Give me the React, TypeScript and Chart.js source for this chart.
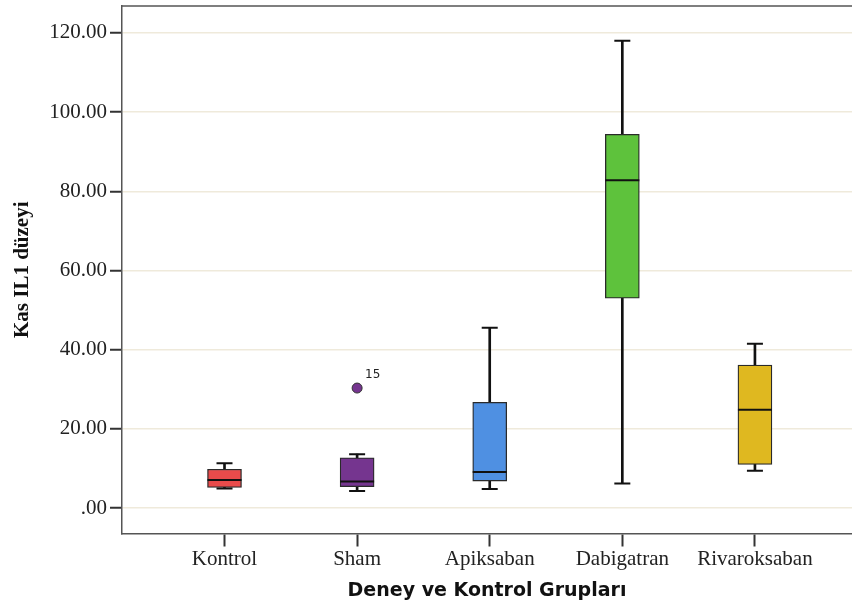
import React, { useEffect, useRef } from "react";
import { Chart, registerables } from "chart.js";

Chart.register(...registerables);

const categories = ["Kontrol", "Sham", "Apiksaban", "Dabigatran", "Rivaroksaban"];
const whiskerLow = [4.9, 4.3, 4.8, 6.2, 9.4];
const q1 = [5.2, 5.4, 6.8, 53.0, 11.0];
const median = [7.1, 6.7, 9.1, 82.8, 24.8];
const q3 = [9.8, 12.7, 26.7, 94.4, 36.1];
const whiskerHigh = [11.3, 13.6, 45.5, 118.0, 41.5];
const boxColors = ["#e94b4b", "#75358f", "#4f90e2", "#5ec23c", "#dfb820"];
const outlierGroup = [2];
const outlierValue = [30.3];
const outlierLabel = ["15"];
const yTickValues = [0, 20, 40, 60, 80, 100, 120];
const yTickLabels = [".00", "20.00", "40.00", "60.00", "80.00", "100.00", "120.00"];
const xTitle = "Deney ve Kontrol Grupları";
const yTitle = "Kas IL1 düzeyi";

export default function App() {
  const ref = useRef<HTMLCanvasElement>(null);
  useEffect(() => {
    if (!ref.current) return;
    const pos = (i: number) => i + 1;
    const stems: any[] = [];
    categories.forEach((_, i) => {
      stems.push({ x: pos(i), y: [whiskerLow[i], q1[i]] });
      stems.push({ x: pos(i), y: [q3[i], whiskerHigh[i]] });
    });
    const caps: any[] = [];
    categories.forEach((_, i) => {
      caps.push({ x: pos(i), y: whiskerLow[i] });
      caps.push({ x: pos(i), y: whiskerHigh[i] });
    });
    const outlierPlugin = {
      id: "outlierLabels",
      afterDatasetsDraw(chart: any) {
        const meta = chart.getDatasetMeta(4);
        const ctx = chart.ctx;
        ctx.save();
        ctx.font = "12px 'DejaVu Sans'";
        ctx.fillStyle = "#222";
        ctx.textAlign = "left";
        ctx.textBaseline = "middle";
        meta.data.forEach((p: any, k: number) => {
          ctx.fillText(outlierLabel[k], p.x + 8, p.y - 13);
        });
        ctx.restore();
      },
    };
    const framePlugin = {
      id: "frameTop",
      afterDraw(chart: any) {
        const { left, right, top } = chart.chartArea;
        const ctx = chart.ctx;
        ctx.save();
        ctx.strokeStyle = "#555";
        ctx.lineWidth = 1.5;
        ctx.beginPath();
        ctx.moveTo(left, top);
        ctx.lineTo(right, top);
        ctx.stroke();
        ctx.restore();
      },
    };
    const chart = new Chart(ref.current, {
      type: "bar",
      data: {
        datasets: [
          {
            type: "bar",
            data: stems,
            backgroundColor: "#111",
            borderWidth: 0,
            barThickness: 2,
            grouped: false,
            order: 5,
          } as any,
          {
            type: "bar",
            data: categories.map((_, i) => ({ x: pos(i), y: [q1[i], q3[i]] })),
            backgroundColor: boxColors,
            borderColor: "#2a2a2a",
            borderWidth: 1.3,
            borderSkipped: false,
            barThickness: 34,
            grouped: false,
            order: 4,
          } as any,
          {
            type: "scatter",
            data: categories.map((_, i) => ({ x: pos(i), y: median[i] })),
            pointStyle: "line",
            radius: 17,
            borderColor: "#111",
            borderWidth: 2,
            order: 3,
          } as any,
          {
            type: "scatter",
            data: caps,
            pointStyle: "line",
            radius: 8,
            borderColor: "#111",
            borderWidth: 2,
            order: 2,
          } as any,
          {
            type: "scatter",
            data: outlierGroup.map((g, k) => ({ x: g, y: outlierValue[k] })),
            pointStyle: "circle",
            radius: 5,
            backgroundColor: boxColors[1],
            borderColor: "#333",
            borderWidth: 1,
            order: 1,
          } as any,
        ],
      },
      options: {
        responsive: false,
        animation: false,
        layout: { autoPadding: false, padding: { top: 6, right: 0, bottom: 0, left: 0 } },
        plugins: { legend: { display: false }, tooltip: { enabled: false } },
        scales: {
          x: {
            type: "linear",
            min: 0.227,
            max: 5.732,
            offset: false,
            afterBuildTicks: (s: any) => {
              s.ticks = categories.map((_, i) => ({ value: pos(i) }));
            },
            afterFit: (s: any) => {
              s.height = 605 - 533.5;
              s.paddingLeft = 0;
              s.paddingRight = 0;
            },
            grid: {
              offset: false,
              drawOnChartArea: false,
              drawTicks: true,
              tickLength: 13,
              tickColor: "#333",
              tickWidth: 2,
            },
            border: { display: true, color: "#555", width: 1.5 },
            ticks: {
              autoSkip: false,
              maxRotation: 0,
              padding: 0,
              color: "#222",
              font: { family: "'Liberation Serif'", size: 21 },
              callback: (_v: any, i: number) => categories[i],
            },
            title: {
              display: true,
              text: xTitle,
              color: "#111",
              font: { family: "'DejaVu Sans'", size: 19, weight: "bold" },
              padding: { top: 2, bottom: 3 },
            },
          },
          y: {
            type: "linear",
            min: -6.44,
            max: 126.8,
            afterBuildTicks: (s: any) => {
              s.ticks = yTickValues.map((v) => ({ value: v }));
            },
            afterFit: (s: any) => {
              s.width = 122;
              s.paddingTop = 0;
              s.paddingBottom = 0;
            },
            grid: {
              color: "#efeadb",
              lineWidth: 1.5,
              tickColor: "#333",
              tickWidth: 2,
              tickLength: 12,
            },
            border: { display: true, color: "#555", width: 1.5 },
            ticks: {
              padding: 3,
              color: "#222",
              font: { family: "'Liberation Serif'", size: 21 },
              callback: (_v: any, i: number) => yTickLabels[i],
            },
            title: {
              display: true,
              text: yTitle,
              color: "#111",
              font: { family: "'Liberation Serif'", size: 21, weight: "bold" },
              padding: { top: 10, bottom: 2 },
            },
          },
        },
      } as any,
      plugins: [outlierPlugin, framePlugin],
    });
    return () => chart.destroy();
  }, []);
  return (
    <div style={{ position: "absolute", left: 0, top: 0, width: 852, height: 605, background: "#fff" }}>
      <canvas ref={ref} width={852} height={605} style={{ display: "block" }} />
    </div>
  );
}
